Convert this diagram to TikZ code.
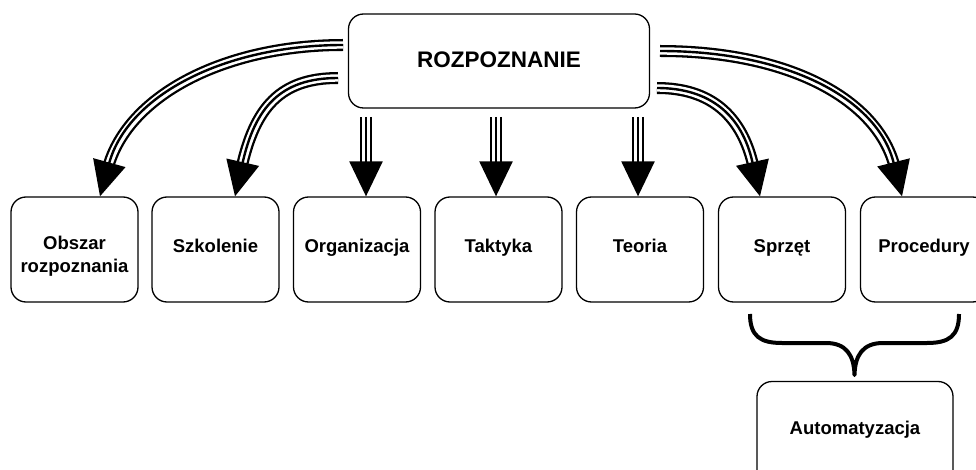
\documentclass[tikz,border=0pt]{standalone}
\usepackage{fontspec}
\setmainfont{Liberation Sans}
\usetikzlibrary{arrows.meta}

\begin{document}
\begin{tikzpicture}[x=1pt,y=-1pt,
	pole/.style={draw,rounded corners=15pt,line width=1.3pt,minimum width=127pt,minimum height=105pt,inner sep=0pt,align=center,font=\fontsize{18.5}{22}\selectfont\bfseries,text height=14pt,text depth=9pt},
	tri/.style={line width=2.4pt,-{Triangle[length=35pt,width=33pt]},
		preaction={draw,arrows=-,line width=12pt,shorten >=30pt},
		preaction={draw,arrows=-,white,line width=7.4pt,shorten >=30pt}}]
	\clip (0,0) rectangle (976,470);
	\node [pole,minimum width=301pt,minimum height=94pt,font=\fontsize{22.5}{26}\selectfont\bfseries,text height=16pt,text depth=2pt] (rozp) at (499,61) {ROZPOZNANIE};
	% dolny rzad
	\node [pole,text height=49pt,text depth=4pt] (obsz) at (74.5,249.5) {Obszar\\rozpoznania};
	\node [pole] (szko) at (215.5,249.5) {Szkolenie};
	\node [pole] (orga) at (357,249.5) {Organizacja};
	\node [pole] (takt) at (498.5,249.5) {Taktyka};
	\node [pole] (teor) at (640,249.5) {Teoria};
	\node [pole] (sprz) at (782,249.5) {Sprzęt};
	\node [pole] (proc) at (924,249.5) {Procedury};
	\node [pole,minimum width=196pt,text depth=14pt] (auto) at (855,434) {Automatyzacja};
	% strzalki
	\coordinate (r1) at (343,45);
	\coordinate (r2) at (338,78);
	\coordinate (r3) at (366,117);
	\coordinate (r4) at (496,117);
	\coordinate (r5) at (638,117);
	\coordinate (r6) at (657,88);
	\coordinate (r7) at (660,51);
	\draw [tri] (r1) .. controls (225,45) and (128,95) .. (obsz.north -| 100,0);
	\draw [tri] (r2) .. controls (280,78) and (255,108) .. (szko.north -| 235,0);
	\draw [tri] (r6) .. controls (710,88) and (742,115) .. (sprz.north -| 760,0);
	\draw [tri] (r7) .. controls (790,51) and (878,100) .. (proc.north -| 902,0);
	\draw [tri] (r3) -- (r3 |- orga.north);
	\draw [tri] (r4) -- (r4 |- takt.north);
	\draw [tri] (r5) -- (r5 |- teor.north);
	% klamra
	\draw [line width=4pt,line join=round] (750,314) .. controls (750,336) and (760,343) .. (782,343) -- (826,343)
		.. controls (846,343) and (854,355) .. (854.5,375)
		.. controls (855,355) and (863,343) .. (883,343) -- (927,343)
		.. controls (949,343) and (959,336) .. (959,314);
\end{tikzpicture}
\end{document}
